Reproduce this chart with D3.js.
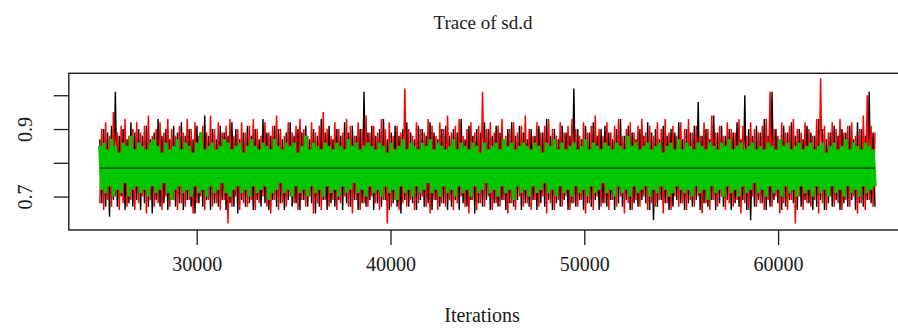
<!doctype html>
<html>
<head>
<meta charset="utf-8">
<title>Trace of sd.d</title>
<script src="https://cdn.jsdelivr.net/npm/d3@7"></script>
<style>
  body { margin: 0; background: #fff; }
  text { font-family: "Liberation Serif", "DejaVu Serif", serif; fill: #1a1a1a; }
</style>
</head>
<body>
<script>
const chain1 = [
  0.87,0.68,0.90,0.67,0.89,0.64,0.91,0.69,1.01,0.67,0.88,0.70,0.90,0.66,0.87,0.68,0.92,0.67,0.89,0.69,
  0.90,0.66,0.88,0.68,0.91,0.67,0.87,0.65,0.89,0.69,0.93,0.67,0.88,0.68,0.90,0.66,0.87,0.69,0.91,0.67,
  0.89,0.68,0.92,0.66,0.88,0.69,0.90,0.67,0.87,0.65,0.91,0.68,0.89,0.67,0.94,0.69,0.88,0.66,0.90,0.68,
  0.87,0.67,0.91,0.69,0.89,0.66,0.88,0.68,0.92,0.67,0.90,0.65,0.87,0.69,0.89,0.67,0.91,0.68,0.88,0.66,
  0.90,0.69,0.87,0.67,0.93,0.68,0.89,0.66,0.88,0.69,0.91,0.67,0.90,0.68,0.87,0.66,0.89,0.69,0.92,0.67,
  0.88,0.68,0.90,0.66,0.89,0.69,0.91,0.67,0.87,0.68,0.90,0.65,0.88,0.67,0.93,0.69,0.89,0.66,0.91,0.68,
  0.87,0.67,0.90,0.69,0.88,0.66,0.92,0.68,0.89,0.67,0.91,0.69,0.88,0.66,0.90,0.68,1.01,0.67,0.89,0.69,
  0.91,0.66,0.88,0.68,0.90,0.67,0.93,0.69,0.87,0.66,0.89,0.68,0.91,0.67,0.88,0.65,0.90,0.69,0.92,0.67,
  0.89,0.68,0.87,0.66,0.91,0.69,0.90,0.67,0.88,0.68,0.92,0.66,0.89,0.69,0.87,0.67,0.90,0.68,0.91,0.66,
  0.88,0.67,0.90,0.69,0.89,0.66,0.93,0.68,0.87,0.67,0.91,0.69,0.88,0.65,0.90,0.68,0.89,0.67,0.92,0.69,
  0.90,0.66,0.88,0.68,0.91,0.67,0.89,0.69,0.87,0.66,0.90,0.68,0.92,0.67,0.88,0.69,0.91,0.66,0.89,0.68,
  0.87,0.67,0.90,0.69,0.88,0.66,0.91,0.68,0.89,0.67,0.93,0.69,0.88,0.66,0.90,0.68,0.87,0.67,0.91,0.69,
  0.89,0.66,0.88,0.68,1.02,0.67,0.90,0.69,0.87,0.66,0.91,0.68,0.89,0.67,0.92,0.69,0.88,0.66,0.90,0.68,
  0.91,0.67,0.89,0.69,0.87,0.66,0.90,0.68,0.93,0.67,0.88,0.69,0.91,0.66,0.89,0.68,0.87,0.67,0.90,0.69,
  0.88,0.68,0.92,0.66,0.89,0.63,0.90,0.67,0.87,0.69,0.91,0.68,0.88,0.66,0.90,0.67,0.89,0.69,0.92,0.68,
  0.87,0.66,0.90,0.68,0.89,0.67,0.91,0.69,0.98,0.66,0.88,0.68,0.90,0.67,0.87,0.69,0.94,0.66,0.89,0.68,
  0.91,0.67,0.88,0.69,0.90,0.66,0.89,0.68,0.92,0.67,0.87,0.69,1.00,0.66,0.90,0.63,0.88,0.67,0.91,0.69,
  0.89,0.68,0.93,0.66,0.88,0.67,1.01,0.69,0.90,0.68,0.87,0.66,0.91,0.67,0.89,0.69,0.92,0.68,0.88,0.66,
  0.90,0.67,0.87,0.69,0.91,0.68,0.89,0.66,0.88,0.67,0.93,0.69,0.90,0.66,0.87,0.68,0.89,0.67,0.91,0.69,
  0.88,0.66,0.90,0.68,0.89,0.67,0.91,0.69,0.87,0.66,0.92,0.68,0.90,0.67,0.88,0.69,1.01,0.68,0.89,0.67
];

const chain2 = [
  0.68,0.90,0.66,0.92,0.69,0.88,0.67,0.95,0.70,0.89,0.66,0.91,0.68,0.93,0.67,0.88,0.69,0.90,0.66,0.92,
  0.68,0.89,0.70,0.91,0.65,0.94,0.69,0.88,0.67,0.90,0.68,0.92,0.66,0.89,0.70,0.93,0.67,0.90,0.69,0.88,
  0.66,0.91,0.68,0.89,0.67,0.93,0.69,0.90,0.65,0.92,0.68,0.88,0.70,0.91,0.66,0.89,0.69,0.94,0.67,0.90,
  0.68,0.92,0.66,0.89,0.69,0.91,0.62,0.93,0.67,0.88,0.70,0.90,0.66,0.92,0.68,0.89,0.67,0.91,0.69,0.93,
  0.66,0.90,0.68,0.88,0.70,0.92,0.67,0.89,0.65,0.91,0.69,0.94,0.66,0.90,0.68,0.88,0.67,0.92,0.70,0.89,
  0.68,0.91,0.66,0.93,0.69,0.90,0.67,0.88,0.70,0.92,0.65,0.89,0.68,0.91,0.66,0.95,0.69,0.90,0.67,0.88,
  0.69,0.92,0.66,0.90,0.68,0.89,0.70,0.93,0.67,0.91,0.65,0.88,0.69,0.92,0.66,0.90,0.68,0.94,0.67,0.89,
  0.70,0.91,0.68,0.89,0.66,0.93,0.69,0.90,0.62,0.92,0.67,0.88,0.69,0.91,0.66,0.89,0.68,1.02,0.67,0.90,
  0.69,0.88,0.66,0.92,0.68,0.90,0.70,0.89,0.67,0.93,0.65,0.91,0.69,0.88,0.66,0.92,0.68,0.90,0.67,0.94,
  0.69,0.89,0.66,0.91,0.68,0.93,0.70,0.88,0.67,0.90,0.65,0.92,0.69,0.89,0.66,0.91,0.68,1.01,0.67,0.90,
  0.70,0.92,0.66,0.89,0.68,0.91,0.67,0.93,0.69,0.88,0.65,0.90,0.68,0.92,0.66,0.89,0.70,0.91,0.67,0.94,
  0.68,0.90,0.66,0.88,0.69,0.92,0.67,0.89,0.70,0.91,0.65,0.93,0.68,0.90,0.66,0.88,0.69,0.92,0.67,0.89,
  0.70,0.91,0.66,0.93,0.68,0.90,0.67,0.88,0.69,0.92,0.65,0.89,0.68,0.91,0.66,0.94,0.70,0.90,0.67,0.88,
  0.68,0.92,0.66,0.89,0.69,0.91,0.67,0.93,0.70,0.88,0.65,0.90,0.68,0.92,0.66,0.89,0.69,0.91,0.67,0.93,
  0.70,0.89,0.66,0.91,0.68,0.88,0.67,0.92,0.69,0.90,0.65,0.93,0.68,0.89,0.66,0.91,0.70,0.88,0.67,0.92,
  0.68,0.90,0.66,0.93,0.69,0.89,0.67,0.91,0.70,0.88,0.65,0.92,0.68,0.90,0.66,0.94,0.69,0.89,0.67,0.91,
  0.70,0.88,0.66,0.92,0.68,0.90,0.67,0.89,0.69,0.93,0.65,0.91,0.68,0.88,0.66,0.92,0.70,0.90,0.67,0.89,
  0.68,0.91,0.66,0.93,0.69,1.01,0.67,0.90,0.70,0.88,0.65,0.92,0.68,0.89,0.66,0.91,0.69,0.93,0.62,0.90,
  0.70,0.89,0.66,0.92,0.68,0.90,0.67,0.88,0.69,0.93,0.65,1.05,0.68,0.91,0.66,0.89,0.70,0.92,0.67,0.90,
  0.68,0.93,0.66,0.89,0.69,0.91,0.67,0.92,0.70,0.88,0.65,0.90,0.68,0.94,0.66,1.00,0.69,0.91,0.67,0.89
];

const chain3 = [
  0.85,0.72,0.86,0.71,0.84,0.73,0.87,0.70,0.85,0.72,0.83,0.71,0.86,0.74,0.85,0.70,0.88,0.72,0.84,0.73,
  0.86,0.71,0.85,0.72,0.84,0.70,0.86,0.73,0.87,0.71,0.85,0.72,0.83,0.74,0.86,0.71,0.84,0.69,0.85,0.72,
  0.87,0.73,0.84,0.71,0.86,0.72,0.85,0.70,0.83,0.73,0.86,0.71,0.89,0.72,0.84,0.70,0.85,0.73,0.86,0.71,
  0.84,0.72,0.85,0.74,0.87,0.71,0.86,0.70,0.84,0.72,0.85,0.73,0.86,0.71,0.83,0.72,0.85,0.70,0.87,0.73,
  0.85,0.71,0.84,0.72,0.86,0.73,0.85,0.69,0.84,0.71,0.87,0.72,0.85,0.74,0.84,0.71,0.86,0.72,0.85,0.70,
  0.86,0.73,0.83,0.71,0.85,0.72,0.88,0.70,0.84,0.73,0.86,0.71,0.85,0.72,0.84,0.70,0.86,0.73,0.85,0.71,
  0.84,0.72,0.86,0.70,0.85,0.73,0.84,0.71,0.87,0.72,0.85,0.74,0.86,0.71,0.84,0.72,0.85,0.70,0.86,0.73,
  0.85,0.71,0.84,0.72,0.86,0.70,0.85,0.73,0.83,0.71,0.86,0.72,0.84,0.69,0.85,0.73,0.87,0.71,0.84,0.72,
  0.86,0.70,0.85,0.73,0.84,0.71,0.86,0.72,0.85,0.74,0.87,0.71,0.84,0.72,0.86,0.70,0.85,0.73,0.84,0.71,
  0.85,0.72,0.87,0.70,0.84,0.73,0.86,0.71,0.85,0.72,0.84,0.70,0.86,0.73,0.85,0.71,0.83,0.72,0.86,0.74,
  0.84,0.71,0.85,0.72,0.86,0.70,0.84,0.73,0.87,0.71,0.85,0.72,0.86,0.69,0.84,0.73,0.85,0.71,0.86,0.72,
  0.85,0.70,0.84,0.73,0.86,0.71,0.85,0.72,0.83,0.74,0.86,0.71,0.85,0.72,0.87,0.70,0.84,0.73,0.86,0.71,
  0.84,0.72,0.85,0.70,0.86,0.73,0.84,0.71,0.85,0.72,0.87,0.70,0.84,0.73,0.86,0.71,0.85,0.72,0.84,0.74,
  0.86,0.71,0.85,0.72,0.84,0.70,0.86,0.73,0.85,0.71,0.84,0.72,0.88,0.70,0.85,0.73,0.86,0.71,0.84,0.72,
  0.85,0.73,0.86,0.70,0.84,0.72,0.85,0.71,0.86,0.73,0.83,0.72,0.85,0.70,0.86,0.71,0.84,0.73,0.87,0.72,
  0.84,0.71,0.86,0.72,0.85,0.70,0.84,0.73,0.86,0.71,0.85,0.72,0.84,0.69,0.86,0.73,0.85,0.71,0.84,0.72,
  0.86,0.70,0.85,0.73,0.87,0.71,0.84,0.72,0.85,0.70,0.86,0.73,0.84,0.71,0.85,0.72,0.86,0.74,0.84,0.71,
  0.85,0.72,0.84,0.70,0.86,0.73,0.85,0.71,0.84,0.72,0.87,0.70,0.85,0.73,0.86,0.71,0.84,0.72,0.85,0.70,
  0.86,0.73,0.84,0.71,0.85,0.72,0.86,0.70,0.84,0.73,0.85,0.71,0.86,0.72,0.83,0.70,0.85,0.73,0.86,0.71,
  0.84,0.72,0.85,0.70,0.87,0.73,0.84,0.71,0.86,0.72,0.85,0.70,0.84,0.73,0.86,0.71,0.85,0.72,0.84,0.73
];

const iterStart = 25000;
const iterEnd = 65000;
const meanLevel = [0.784];

const xTicks = [30000, 40000, 50000, 60000];
const yTicks = [0.7, 0.8, 0.9, 1.0];
const yTickLabels = ['0.7', '', '0.9', ''];

const svgWidth = 898;
const svgHeight = 328;

const plot = { left: 68.8, right: 906, top: 73.3, bottom: 230 };

const svg = d3.select('body').append('svg')
    .attr('width', svgWidth)
    .attr('height', svgHeight);

const xScale = d3.scaleLinear()
    .domain([23400, 66600])
    .range([plot.left, plot.right]);

const yScale = d3.scaleLinear()
    .domain([0.601, 1.065])
    .range([plot.bottom, plot.top]);

// iteration number of each kept draw
const iterOf = (i, n) => iterStart + i * (iterEnd - iterStart) / (n - 1);

const line = d3.line()
    .x((d, i, arr) => xScale(iterOf(i, arr.length)))
    .y(d => yScale(d));

// chains drawn in R order: black, red, green on top
const chains = [
  { values: chain1, color: '#000000', width: 1.4 },
  { values: chain2, color: '#ff0000', width: 1.5 },
  { values: chain3, color: '#00c800', width: 3.4 }
];

const gTrace = svg.append('g');
chains.forEach(c => {
  gTrace.append('path')
      .datum(c.values)
      .attr('fill', 'none')
      .attr('stroke', c.color)
      .attr('stroke-width', c.width)
      .attr('stroke-linejoin', 'bevel')
      .attr('d', line);
});

// horizontal line at the posterior mean
gTrace.selectAll('line.mean')
  .data(meanLevel)
  .enter().append('line')
    .attr('class', 'mean')
    .attr('x1', xScale(iterStart))
    .attr('x2', xScale(iterEnd))
    .attr('y1', d => yScale(d))
    .attr('y2', d => yScale(d))
    .attr('stroke', '#1e3c0a')
    .attr('stroke-width', 1.3);

// box
svg.append('rect')
    .attr('x', plot.left)
    .attr('y', plot.top)
    .attr('width', plot.right - plot.left)
    .attr('height', plot.bottom - plot.top)
    .attr('fill', 'none')
    .attr('stroke', '#1a1a1a')
    .attr('stroke-width', 1.4);

// x axis
const xAxis = d3.axisBottom(xScale)
    .tickValues(xTicks)
    .tickSize(15)
    .tickPadding(12)
    .tickFormat(d3.format('d'));
const gx = svg.append('g')
    .attr('transform', `translate(0, ${plot.bottom})`)
    .call(xAxis);
gx.select('.domain').remove();
gx.selectAll('.tick line').attr('stroke', '#1a1a1a').attr('stroke-width', 1.3);
gx.selectAll('.tick text')
    .style('font-family', '"Liberation Serif", serif')
    .style('font-size', '20px')
    .attr('fill', '#1a1a1a');

// y axis, labels parallel to the axis
const yAxis = d3.axisLeft(yScale)
    .tickValues(yTicks)
    .tickSize(15)
    .tickFormat((d, i) => yTickLabels[i]);
const gy = svg.append('g')
    .attr('transform', `translate(${plot.left}, 0)`)
    .call(yAxis);
gy.select('.domain').remove();
gy.selectAll('.tick line').attr('stroke', '#1a1a1a').attr('stroke-width', 1.3);
gy.selectAll('.tick text')
    .attr('x', null)
    .attr('dy', null)
    .attr('text-anchor', 'middle')
    .attr('transform', 'translate(-37, 0) rotate(-90)')
    .style('font-family', '"Liberation Serif", serif')
    .style('font-size', '20px')
    .attr('fill', '#1a1a1a');

// titles
svg.append('text')
    .attr('x', 483)
    .attr('y', 29)
    .attr('text-anchor', 'middle')
    .style('font-size', '19px')
    .text('Trace of sd.d');

svg.append('text')
    .attr('x', 482)
    .attr('y', 322)
    .attr('text-anchor', 'middle')
    .style('font-size', '20px')
    .text('Iterations');
</script>
</body>
</html>
